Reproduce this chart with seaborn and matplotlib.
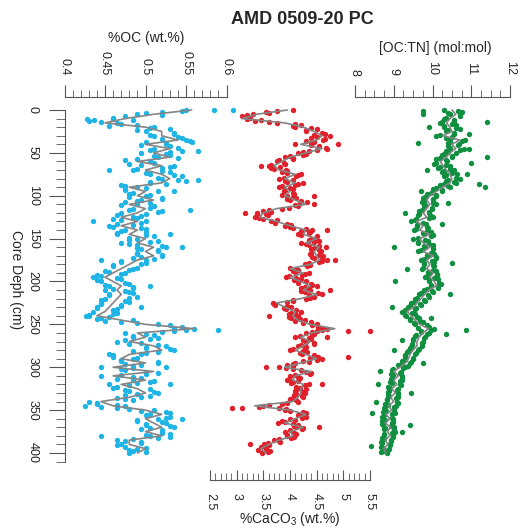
import numpy as np
import pandas as pd
import seaborn as sns
import matplotlib
matplotlib.use("Agg")  # no display
import matplotlib.pyplot as plt

# ---- data ----
# depth grids (cm)
line_depth = np.arange(0, 401, 5)
pt_depth = np.arange(0, 400.1, 2.5)      # first set of samples
pt_depth2 = np.arange(1.25, 400, 2.5)    # second set, in between

# %OC (wt.%)
oc_line = [0.557, 0.51, 0.475, 0.45, 0.50, 0.52, 0.52, 0.54, 0.50, 0.53,
           0.51, 0.53, 0.49, 0.52, 0.50, 0.52, 0.53, 0.52, 0.48, 0.50,
           0.49, 0.51, 0.48, 0.50, 0.49, 0.47, 0.49, 0.47, 0.49, 0.48,
           0.50, 0.49, 0.51, 0.50, 0.51, 0.49, 0.48, 0.47, 0.46, 0.45,
           0.46, 0.47, 0.465, 0.47, 0.465, 0.46, 0.455, 0.45, 0.44, 0.47,
           0.50, 0.56, 0.49, 0.50, 0.48, 0.51, 0.52, 0.48, 0.47, 0.50,
           0.46, 0.51, 0.46, 0.50, 0.47, 0.49, 0.50, 0.48, 0.445, 0.46,
           0.50, 0.52, 0.50, 0.51, 0.52, 0.50, 0.52, 0.48, 0.48, 0.50,
           0.49]
oc_pts = [0.55, 0.52, 0.49, 0.475, 0.46, 0.43, 0.465, 0.49, 0.51, 0.53,
          0.50, 0.535, 0.51, 0.545, 0.55, 0.50, 0.525, 0.53, 0.51, 0.545,
          0.495, 0.53, 0.515, 0.49, 0.505, 0.48, 0.535, 0.52, 0.485, 0.53,
          0.505, 0.545, 0.52, 0.55, 0.505, 0.47, 0.49, 0.475, 0.515, 0.48,
          0.50, 0.52, 0.495, 0.475, 0.49, 0.51, 0.485, 0.52, 0.47, 0.465,
          0.485, 0.46, 0.50, 0.465, 0.455, 0.495, 0.475, 0.50, 0.465, 0.51,
          0.49, 0.515, 0.47, 0.49, 0.525, 0.495, 0.515, 0.49, 0.52, 0.485,
          0.50, 0.47, 0.495, 0.46, 0.485, 0.45, 0.475, 0.44, 0.435, 0.47,
          0.445, 0.48, 0.455, 0.485, 0.45, 0.48, 0.455, 0.49, 0.45, 0.475,
          0.445, 0.47, 0.44, 0.465, 0.435, 0.46, 0.43, 0.445, 0.485, 0.47,
          0.515, 0.545, 0.56, 0.535, 0.475, 0.51, 0.485, 0.505, 0.465, 0.48,
          0.525, 0.50, 0.535, 0.515, 0.495, 0.46, 0.485, 0.47, 0.515, 0.495,
          0.445, 0.47, 0.50, 0.50, 0.445, 0.495, 0.485, 0.505, 0.455, 0.465,
          0.505, 0.48, 0.515, 0.475, 0.495, 0.475, 0.43, 0.44, 0.475, 0.465,
          0.51, 0.525, 0.505, 0.53, 0.515, 0.49, 0.525, 0.50, 0.535, 0.495,
          0.52, 0.53, 0.505, 0.515, 0.465, 0.495, 0.47, 0.475, 0.49, 0.485,
          0.48]
oc_pts2 = [0.545, 0.50, 0.52, 0.46, 0.485, 0.445, 0.47, 0.455, 0.505, 0.49,
           0.535, 0.505, 0.54, 0.52, 0.555, 0.525, 0.495, 0.54, 0.505, 0.53,
           0.525, 0.51, 0.54, 0.475, 0.51, 0.495, 0.53, 0.49, 0.52, 0.50,
           0.535, 0.515, 0.54, 0.505, 0.525, 0.475, 0.50, 0.475, 0.485, 0.505,
           0.48, 0.52, 0.49, 0.505, 0.47, 0.505, 0.48, 0.515, 0.50, 0.495,
           0.49, 0.47, 0.495, 0.485, 0.46, 0.50, 0.47, 0.465, 0.50, 0.48,
           0.48, 0.505, 0.48, 0.52, 0.49, 0.515, 0.49, 0.52, 0.495, 0.51,
           0.47, 0.50, 0.46, 0.49, 0.48, 0.455, 0.47, 0.445, 0.465, 0.44,
           0.475, 0.45, 0.485, 0.46, 0.475, 0.485, 0.455, 0.48, 0.445, 0.48,
           0.445, 0.47, 0.44, 0.46, 0.465, 0.43, 0.455, 0.44, 0.45, 0.49,
           0.53, 0.535, 0.55, 0.52, 0.50, 0.485, 0.515, 0.475, 0.495, 0.515,
           0.50, 0.53, 0.485, 0.50, 0.46, 0.49, 0.47, 0.515, 0.475, 0.485,
           0.485, 0.475, 0.515, 0.47, 0.485, 0.465, 0.51, 0.49, 0.48, 0.46,
           0.475, 0.51, 0.49, 0.505, 0.465, 0.485, 0.44, 0.465, 0.445, 0.48,
           0.495, 0.53, 0.50, 0.525, 0.49, 0.52, 0.50, 0.53, 0.505, 0.52,
           0.52, 0.50, 0.53, 0.485, 0.475, 0.495, 0.465, 0.50, 0.48, 0.50]
oc_extra_depth = [0, 0, 10, 12, 37, 82, 117, 240, 256, 345,
                  48, 70, 95, 130, 145, 160, 175, 205, 230, 285, 300, 320, 360, 380]
oc_extra_val = [0.585, 0.608, 0.428, 0.436, 0.557, 0.565, 0.555, 0.427, 0.589, 0.425,
                0.565, 0.455, 0.535, 0.435, 0.53, 0.545, 0.445, 0.505, 0.495, 0.455,
                0.525, 0.53, 0.545, 0.445]

# %CaCO3 (wt.%)
ca_line = [3.95, 3.37, 3.1, 3.9, 4.25, 4.45, 4.6, 4.5, 4.2, 4.6,
           4.3, 4.0, 3.85, 3.7, 3.8, 4.1, 3.9, 4.1, 3.9, 4.0,
           3.9, 4.1, 4.3, 3.75, 3.5, 3.43, 3.75, 4.0, 4.3, 4.25,
           4.5, 4.3, 4.55, 4.45, 4.5, 4.55, 4.38, 4.0, 4.25, 4.0,
           4.2, 4.38, 4.25, 4.5, 4.2, 3.75, 3.9, 4.1, 4.05, 4.15,
           4.38, 4.84, 4.4, 4.2, 4.38, 4.25, 4.1, 4.3, 4.5, 4.2,
           3.9, 4.4, 4.1, 4.05, 4.25, 4.2, 4.2, 4.15, 4.05, 3.34,
           4.0, 4.3, 4.1, 3.9, 4.25, 4.0, 4.06, 3.8, 3.6, 3.45,
           3.55]
ca_pts = [4.05, 3.55, 3.3, 3.1, 3.2, 3.35, 3.75, 4.2, 4.1, 4.5,
          4.3, 4.65, 4.75, 4.4, 4.62, 4.45, 4.1, 4.55, 4.7, 4.35,
          4.15, 4.25, 3.9, 4.05, 3.75, 3.9, 3.6, 3.65, 3.92, 3.85,
          4.2, 4.12, 3.8, 3.9, 4.25, 4.1, 3.8, 4.05, 3.88, 4.08,
          3.95, 4.12, 4.0, 4.32, 4.45, 4.15, 3.85, 3.5, 3.38, 3.58,
          3.35, 3.5, 3.65, 3.95, 3.9, 4.05, 4.42, 4.38, 4.15, 4.5,
          4.4, 4.55, 4.2, 4.35, 4.68, 4.4, 4.58, 4.38, 4.62, 4.45,
          4.7, 4.55, 4.28, 4.32, 4.12, 4.05, 4.35, 4.22, 3.92, 4.2,
          4.3, 4.4, 4.5, 4.2, 4.38, 4.28, 4.6, 4.45, 4.3, 4.05,
          3.68, 3.72, 4.02, 3.92, 4.2, 3.98, 4.15, 4.02, 4.28, 4.4,
          4.5, 4.52, 4.7, 4.5, 4.3, 4.42, 4.1, 4.4, 4.3, 4.45,
          4.15, 4.28, 4.0, 4.32, 4.22, 4.52, 4.6, 4.25, 4.1, 3.95,
          3.8, 4.05, 4.3, 4.38, 4.0, 4.18, 3.95, 4.05, 4.35, 4.12,
          4.3, 4.1, 4.28, 4.08, 4.25, 4.0, 4.15, 3.85, 3.5, 3.8,
          3.9, 4.25, 4.2, 4.3, 4.0, 3.85, 3.78, 4.15, 4.12, 4.22,
          3.9, 4.12, 3.95, 4.02, 3.7, 3.82, 3.52, 3.45, 3.55, 3.62,
          3.48]
ca_pts2 = [3.75, 3.6, 3.2, 3.25, 3.45, 3.6, 4.1, 4.05, 4.4, 4.3,
           4.6, 4.45, 4.5, 4.65, 4.3, 4.4, 4.4, 4.68, 4.5, 4.25,
           4.3, 4.0, 4.05, 3.8, 3.88, 3.65, 3.82, 3.7, 3.95, 3.95,
           4.15, 3.88, 4.05, 3.95, 4.15, 3.85, 4.0, 3.9, 4.05, 3.85,
           4.05, 3.95, 4.2, 4.18, 4.1, 3.98, 3.6, 3.65, 3.55, 3.4,
           3.42, 3.75, 3.72, 4.02, 4.0, 4.3, 4.2, 4.35, 4.2, 4.48,
           4.35, 4.45, 4.3, 4.55, 4.45, 4.55, 4.4, 4.55, 4.42, 4.6,
           4.6, 4.35, 4.38, 4.0, 4.15, 4.1, 4.28, 3.98, 4.12, 4.08,
           4.15, 4.42, 4.28, 4.35, 4.2, 4.52, 4.35, 4.38, 4.05, 3.95,
           3.7, 3.95, 3.88, 4.12, 4.02, 4.12, 3.98, 4.18, 4.1, 4.25,
           4.42, 4.62, 4.6, 4.42, 4.45, 4.18, 4.35, 4.25, 4.45, 4.2,
           4.3, 4.05, 4.25, 4.18, 4.45, 4.38, 4.5, 4.35, 4.05, 4.05,
           3.92, 4.2, 4.4, 4.1, 4.15, 3.98, 4.15, 4.02, 4.28, 4.18,
           4.12, 4.25, 4.12, 4.22, 4.05, 4.12, 3.95, 3.6, 3.42, 3.92,
           4.0, 4.3, 4.15, 4.22, 4.1, 3.9, 4.05, 4.08, 4.25, 4.0,
           4.08, 3.95, 4.08, 3.8, 3.8, 3.58, 3.6, 3.55, 3.4, 3.58]
ca_extra_depth = [258, 258, 288, 347, 347,
                  40, 65, 100, 120, 140, 175, 210, 240, 265, 300, 320, 370, 390]
ca_extra_val = [5.08, 5.5, 5.08, 2.91, 3.1,
                4.9, 3.45, 4.45, 3.15, 4.7, 4.85, 4.75, 3.6, 4.7, 3.55, 4.6, 4.55, 3.25]

# [OC:TN] (mol:mol)
tn_line = [10.5, 10.6, 10.45, 10.36, 10.45, 10.5, 10.27, 10.7, 10.5, 10.6,
           10.45, 10.36, 10.2, 10.27, 10.36, 10.45, 10.5, 10.45, 10.27, 10.1,
           9.93, 9.85, 9.93, 9.85, 9.76, 9.85, 9.59, 9.76, 9.67, 9.93,
           9.67, 9.76, 9.93, 9.76, 10.02, 9.85, 9.93, 9.85, 10.02, 9.93,
           10.05, 10.1, 9.9, 9.8, 9.7, 9.6, 9.5, 9.35, 9.45, 9.55,
           9.67, 9.9, 9.75, 9.65, 9.6, 9.6, 9.5, 9.42, 9.38, 9.3,
           9.16, 9.0, 9.12, 9.0, 9.08, 8.95, 9.04, 8.92, 9.0, 8.86,
           8.95, 8.8, 8.9, 8.78, 8.92, 8.84, 8.9, 8.78, 8.85, 8.74,
           8.8]
tn_pts = [10.3, 10.75, 10.45, 10.7, 10.3, 10.55, 10.2, 10.6, 10.3, 10.7,
          10.35, 10.55, 10.1, 10.35, 10.85, 10.45, 10.68, 10.4, 10.8, 10.35,
          10.6, 10.25, 10.5, 10.1, 10.38, 10.05, 10.45, 10.15, 10.55, 10.25,
          10.62, 10.3, 10.7, 10.35, 10.6, 10.2, 10.45, 10.0, 10.25, 9.85,
          10.1, 9.75, 10.0, 9.72, 10.08, 9.78, 9.98, 9.65, 9.92, 9.62,
          10.0, 9.58, 9.45, 9.82, 9.6, 9.88, 9.52, 9.95, 9.78, 9.95,
          9.5, 9.88, 9.62, 10.0, 9.8, 10.02, 9.62, 10.05, 9.88, 10.1,
          9.7, 10.05, 9.78, 10.05, 9.72, 10.1, 9.9, 10.12, 9.8, 10.15,
          9.92, 10.22, 9.95, 10.15, 9.78, 10.0, 9.65, 9.9, 9.55, 9.8,
          9.45, 9.7, 9.38, 9.55, 9.22, 9.55, 9.32, 9.65, 9.42, 9.75,
          9.55, 9.92, 10.05, 9.7, 9.9, 9.58, 9.8, 9.5, 9.75, 9.48,
          9.72, 9.42, 9.62, 9.35, 9.55, 9.28, 9.5, 9.2, 9.42, 9.1,
          9.3, 8.98, 9.18, 8.92, 9.2, 8.95, 9.22, 8.9, 9.15, 8.85,
          9.12, 8.88, 9.1, 8.85, 9.12, 8.82, 9.08, 8.78, 9.05, 8.75,
          9.0, 8.72, 8.95, 8.7, 8.98, 8.7, 8.95, 8.72, 9.0, 8.75,
          9.02, 8.76, 8.98, 8.7, 8.92, 8.68, 8.9, 8.66, 8.88, 8.72,
          8.82]
tn_pts2 = [10.65, 10.4, 10.7, 10.35, 10.55, 10.25, 10.5, 10.3, 10.6, 10.4,
           10.55, 10.2, 10.5, 10.45, 10.75, 10.4, 10.65, 10.45, 10.7, 10.4,
           10.3, 10.5, 10.2, 10.35, 10.1, 10.35, 10.2, 10.45, 10.3, 10.5,
           10.35, 10.6, 10.4, 10.55, 10.3, 10.4, 10.1, 10.25, 9.95, 10.1,
           9.8, 10.0, 9.78, 10.02, 9.8, 9.98, 9.72, 9.9, 9.65, 9.95,
           9.9, 9.55, 9.75, 9.6, 9.85, 9.58, 9.85, 9.75, 10.0, 9.62,
           9.8, 9.62, 9.92, 9.78, 10.0, 9.7, 9.95, 9.85, 10.1, 9.78,
           9.98, 9.78, 10.02, 9.75, 10.0, 9.88, 10.12, 9.85, 10.05, 9.9,
           10.18, 9.95, 10.15, 9.85, 9.98, 9.7, 9.88, 9.6, 9.78, 9.52,
           9.68, 9.42, 9.58, 9.3, 9.48, 9.3, 9.6, 9.42, 9.68, 9.52,
           9.85, 9.62, 9.95, 9.7, 9.85, 9.55, 9.78, 9.5, 9.72, 9.48,
           9.45, 9.65, 9.38, 9.58, 9.3, 9.5, 9.28, 9.45, 9.2, 9.38,
           9.25, 8.95, 9.15, 8.98, 9.2, 8.92, 9.15, 8.95, 9.18, 8.9,
           9.08, 8.85, 9.12, 8.88, 9.05, 8.82, 9.1, 8.85, 9.0, 8.78,
           8.8, 9.02, 8.75, 8.95, 8.78, 8.98, 8.7, 8.92, 8.78, 9.0,
           8.95, 8.75, 8.98, 8.75, 8.92, 8.7, 8.9, 8.72, 8.86, 8.68]
tn_extra_depth = [1, 5, 14, 39, 55, 86, 90, 160, 200, 257, 261, 268, 304, 353, 367, 392,
                  20, 28, 45, 62, 70, 75, 95, 108, 120, 133, 178, 185, 215, 230,
                  243, 280, 295, 320, 330, 340, 375]
tn_extra_val = [9.75, 9.75, 11.4, 9.62, 11.4, 11.2, 11.35, 9.0, 9.03, 10.87,
                10.35, 9.2, 8.65, 8.44, 9.42, 8.4,
                9.9, 10.95, 10.95, 11.0, 9.85, 10.9, 9.7, 10.4, 9.3, 10.25,
                10.5, 9.35, 10.45, 8.95, 9.95, 9.0, 9.75, 8.6, 9.45, 8.55, 9.2]

# ---- style ----
sns.set_style("ticks")
plt.rcParams['font.family'] = ['Liberation Sans', 'DejaVu Sans']
plt.rcParams['mathtext.default'] = 'regular'

BLUE, RED, GREEN = '#1fb4e6', '#e0202a', '#0f8f3f'
LINE = '#858585'
AXC = '#555555'

W, H = 520, 529
fig = plt.figure(figsize=(W / 100, H / 100), dpi=100)

# plot box in pixels (all three panels share it, x ranges differ)
left, right, top, bottom = 64.5, 515, 97, 480
rect = [left / W, 1 - bottom / H, (right - left) / W, (bottom - top) / H]


def xlim_for(v0, px0, v1, px1):
    s = (v1 - v0) / (px1 - px0)
    return v0 + (left - px0) * s, v0 + (right - px0) * s


d_s = 400 / (453 - 110)
ylim = ((bottom - 110) * d_s, (top - 110) * d_s)

ax_oc = fig.add_axes(rect)
ax_ca = fig.add_axes(rect)
ax_tn = fig.add_axes(rect)

panels = [
    (ax_oc, oc_pts, oc_pts2, oc_extra_depth, oc_extra_val, oc_line, BLUE,
     xlim_for(0.4, 64.5, 0.6, 226.5)),
    (ax_ca, ca_pts, ca_pts2, ca_extra_depth, ca_extra_val, ca_line, RED,
     xlim_for(2.5, 210, 5.5, 370)),
    (ax_tn, tn_pts, tn_pts2, tn_extra_depth, tn_extra_val, tn_line, GREEN,
     xlim_for(8, 355, 12, 510)),
]

for ax, pts, pts2, ed, ev, ln, col, xl in panels:
    ax.set_facecolor('none')
    pts_df = pd.DataFrame({'depth': np.concatenate([pt_depth, pt_depth2, ed]),
                           'val': np.concatenate([pts, pts2, ev])})
    line_df = pd.DataFrame({'depth': line_depth, 'val': ln})
    sns.scatterplot(data=pts_df, x='val', y='depth', ax=ax, color=col,
                    s=15, linewidth=0, zorder=2)
    sns.lineplot(data=line_df, x='val', y='depth', ax=ax, orient='y',
                 estimator=None, color=LINE, lw=1.2, zorder=3)
    ax.set_xlim(*xl)
    ax.set_ylim(*ylim)
    ax.set_xlabel('')
    ax.set_ylabel('')
    for sp in ax.spines.values():
        sp.set_visible(False)
        sp.set_color(AXC)

# depth axis on the first panel
ax_oc.spines['left'].set_visible(True)
ax_oc.spines['left'].set_bounds(0, 410)
ax_oc.set_yticks(np.arange(0, 401, 50))
ax_oc.set_yticks(np.arange(0, 411, 10), minor=True)
ax_oc.tick_params(axis='y', which='major', length=11.5, color=AXC, pad=7,
                  labelsize=9, labelrotation=-90)
ax_oc.tick_params(axis='y', which='minor', length=6.5, color=AXC)
for t in ax_oc.get_yticklabels():
    t.set_va('center')

# %OC on top
ax_oc.spines['top'].set_visible(True)
ax_oc.spines['top'].set_bounds(0.4, 0.6)
ax_oc.xaxis.set_ticks_position('top')
ax_oc.set_xticks([0.4, 0.45, 0.5, 0.55, 0.6])
ax_oc.set_xticklabels(['0.4', '0.45', '0.5', '0.55', '0.6'])
ax_oc.set_xticks(np.arange(0.4, 0.6001, 0.01), minor=True)

# [OC:TN] on top
ax_tn.spines['top'].set_visible(True)
ax_tn.spines['top'].set_bounds(8, 12)
ax_tn.xaxis.set_ticks_position('top')
ax_tn.set_xticks([8, 9, 10, 11, 12])
ax_tn.set_xticks(np.arange(8, 12.01, 0.25), minor=True)

for ax in (ax_oc, ax_tn):
    ax.tick_params(axis='x', which='major', direction='out', length=8.5,
                   color=AXC, pad=7, labelsize=9, labelrotation=-90)
    ax.tick_params(axis='x', which='minor', direction='out', length=5, color=AXC)

# %CaCO3 at bottom, ticks pointing up
ax_ca.spines['bottom'].set_visible(True)
ax_ca.spines['bottom'].set_bounds(2.5, 5.5)
ax_ca.xaxis.set_ticks_position('bottom')
ax_ca.set_xticks([2.5, 3, 3.5, 4, 4.5, 5, 5.5])
ax_ca.set_xticklabels(['2.5', '3', '3.5', '4', '4.5', '5', '5.5'])
ax_ca.set_xticks(np.arange(2.5, 5.501, 0.1), minor=True)
ax_ca.tick_params(axis='x', which='major', direction='in', length=7,
                  color=AXC, pad=9.5, labelsize=9, labelrotation=-90)
ax_ca.tick_params(axis='x', which='minor', direction='in', length=5, color=AXC)

for ax in (ax_ca, ax_tn):
    ax.set_yticks([])
    ax.tick_params(axis='y', left=False, labelleft=False)

# titles
fig.text(302 / W, 1 - 20 / H, 'AMD 0509-20 PC', ha='center', va='center',
         fontsize=13, fontweight='bold')
fig.text(146 / W, 1 - 38 / H, '%OC (wt.%)', ha='center', va='center', fontsize=10)
fig.text(435 / W, 1 - 48 / H, '[OC:TN] (mol:mol)', ha='center', va='center', fontsize=10)
fig.text(290 / W, 1 - 519 / H, r'%CaCO$_3$ (wt.%)', ha='center', va='center', fontsize=10)
fig.text(16 / W, 1 - 280 / H, 'Core Deph (cm)', ha='center', va='center',
         fontsize=10, rotation=-90)

fig.savefig('out.png', dpi=100)
